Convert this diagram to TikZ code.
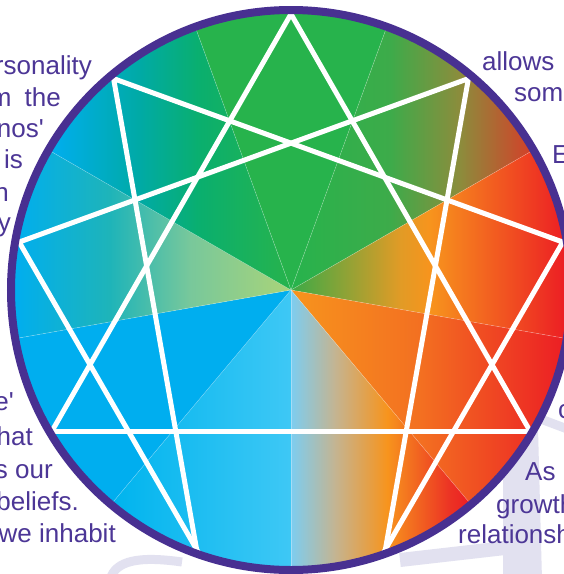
\documentclass[tikz,border=0pt]{standalone}
\usepackage{fontspec}
\setmainfont{Liberation Sans}[Ligatures=TeXOff]
\usetikzlibrary{calc}
\definecolor{ringpurple}{RGB}{72,48,145}
\definecolor{textpurple}{RGB}{76,54,150}
\definecolor{lav}{RGB}{226,225,240}
\definecolor{gtop}{RGB}{39,179,76}
\definecolor{bsolid}{RGB}{0,174,239}
\pgfdeclarehorizontalshading{wone}{100bp}{rgb(0bp)=(0.153,0.702,0.298); rgb(25bp)=(0.153,0.702,0.298); rgb(45.3bp)=(0.239,0.671,0.290); rgb(59.6bp)=(0.549,0.549,0.235); rgb(75bp)=(0.843,0.235,0.157); rgb(100bp)=(0.843,0.235,0.157)}
\pgfdeclarehorizontalshading{wtwo}{100bp}{rgb(0bp)=(0.235,0.667,0.275); rgb(25bp)=(0.235,0.667,0.275); rgb(44.7bp)=(0.882,0.608,0.149); rgb(50.1bp)=(0.969,0.580,0.114); rgb(75bp)=(0.925,0.110,0.141); rgb(100bp)=(0.925,0.110,0.141)}
\pgfdeclarehorizontalshading{wthree}{100bp}{rgb(0bp)=(0.969,0.580,0.114); rgb(25bp)=(0.969,0.580,0.114); rgb(48.6bp)=(0.953,0.439,0.129); rgb(75bp)=(0.925,0.118,0.141); rgb(100bp)=(0.925,0.118,0.141)}
\pgfdeclarehorizontalshading{wfour}{100bp}{rgb(0bp)=(0.490,0.804,0.941); rgb(25bp)=(0.490,0.804,0.941); rgb(37.4bp)=(0.769,0.706,0.569); rgb(52bp)=(0.969,0.580,0.114); rgb(69.7bp)=(0.925,0.196,0.141); rgb(75bp)=(0.925,0.118,0.141); rgb(100bp)=(0.925,0.118,0.141)}
\pgfdeclarehorizontalshading{wfive}{100bp}{rgb(0bp)=(0,0.706,0.933); rgb(25bp)=(0,0.706,0.933); rgb(75bp)=(0.243,0.784,0.961); rgb(100bp)=(0.243,0.784,0.961)}
\pgfdeclarehorizontalshading{wseven}{100bp}{rgb(0bp)=(0,0.682,0.937); rgb(25bp)=(0,0.682,0.937); rgb(42.3bp)=(0.118,0.706,0.725); rgb(56.8bp)=(0.471,0.784,0.608); rgb(75bp)=(0.667,0.831,0.471); rgb(100bp)=(0.667,0.831,0.471)}
\pgfdeclarehorizontalshading{weight}{100bp}{rgb(0bp)=(0,0.682,0.937); rgb(25bp)=(0,0.682,0.937); rgb(43.5bp)=(0,0.667,0.647); rgb(56bp)=(0.039,0.686,0.431); rgb(75bp)=(0.153,0.702,0.298); rgb(100bp)=(0.153,0.702,0.298)}
\begin{document}
\begin{tikzpicture}[x=1pt,y=-1pt,
  starline/.style={draw=white,line width=5pt,shorten <=-7pt,shorten >=-7pt},
  seam/.style={draw=white,opacity=0.35,line width=0.5pt},
  ringline/.style={draw=ringpurple,line width=8pt},
  lbl/.style={text=textpurple,inner sep=0pt,font=\fontsize{26}{31}\selectfont},
  lavband/.style={draw=lav,line cap=butt}]
\useasboundingbox (0,0) rectangle (564,574);
\fill[white] (0,0) rectangle (564,574);
% faint background decoration
\draw[lavband,line width=9pt] (522,412) -- (570,430);
\fill[lav] (503,445) -- (538,428) -- (542,580) -- (503,580) -- cycle;
\draw[lavband,line width=14pt] (400,560) -- (505,548);
\draw[lavband,line width=9pt] (110,580) .. controls (115,560) and (140,556) .. (182,562);
\coordinate (C) at (291,290);
\begin{scope}[shift={(C)}]
  \coordinate (p9) at (-90:276);
  \coordinate (p1) at (-50:276);
  \coordinate (p2) at (-10:276);
  \coordinate (p4) at (70:276);
  \coordinate (p5) at (110:276);
  \coordinate (p7) at (190:276);
  \coordinate (p8) at (230:276);
\end{scope}
\coordinate (p3) at (530,431);
\coordinate (p6) at (52,431);
\begin{scope}
  \clip (C) circle[radius=276.5pt];
  \begin{scope}[shift={(C)}]
    \fill[gtop] (0,0) -- (-110:420) -- (-70:420) -- cycle;
    \begin{scope}\clip (0,0) -- (-70:420) -- (-30:420) -- cycle;
      \shade[shading=wone] (0,-300) rectangle (244,300);\end{scope}
    \begin{scope}\clip (0,0) -- (-30:420) -- (10:420) -- cycle;
      \shade[shading=wtwo] (0,-300) rectangle (277,300);\end{scope}
    \begin{scope}\clip (0,0) -- (10:420) -- (50:420) -- cycle;
      \shade[shading=wthree] (0,-300) rectangle (273,300);\end{scope}
    \begin{scope}\clip (0,0) -- (50:420) -- (90:420) -- cycle;
      \shade[shading=wfour] (0,-300) rectangle (178,300);\end{scope}
    \begin{scope}\clip (0,0) -- (90:420) -- (130:420) -- cycle;
      \shade[shading=wfive] (-178,-300) rectangle (0,300);\end{scope}
    \fill[bsolid] (0,0) -- (130:420) -- (170:420) -- cycle;
    \begin{scope}\clip (0,0) -- (170:420) -- (210:420) -- cycle;
      \shade[shading=wseven] (-277,-300) rectangle (0,300);\end{scope}
    \begin{scope}\clip (0,0) -- (210:420) -- (250:420) -- cycle;
      \shade[shading=weight] (-240,-300) rectangle (0,300);\end{scope}
    \foreach \a in {-110,-70,-30,10,50,90,130,170,210}
      \draw[seam] (0,0) -- (\a:277);
  \end{scope}
  % enneagram lines
  \draw[starline] (p9) -- (p3);
  \draw[starline] (p3) -- (p6);
  \draw[starline] (p6) -- (p9);
  \draw[starline] (p1) -- (p4);
  \draw[starline] (p4) -- (p2);
  \draw[starline] (p2) -- (p8);
  \draw[starline] (p8) -- (p5);
  \draw[starline] (p5) -- (p7);
  \draw[starline] (p7) -- (p1);
\end{scope}
\draw[ringline] (C) circle[radius=280pt];
% texts
\node[lbl,anchor=base east] (l1) at (92,74) {rsonality};
\node[lbl,anchor=base east] (l2) at (61,106) {m\hspace{13pt}the};
\node[lbl,anchor=base east] (l3) at (44,137) {nos'};
\node[lbl,anchor=base east] (l4) at (23,168) {is};
\node[lbl,anchor=base east] (l5) at (9,201) {n};
\node[lbl,anchor=base east] (l6) at (11,231) {y};
\node[lbl,anchor=base east] (l7) at (14,410) {e'};
\node[lbl,anchor=base east] (l8) at (33,445) {hat};
\node[lbl,anchor=base east] (l9) at (53,478) {s our};
\node[lbl,anchor=base east] (l10) at (79,510) {beliefs.};
\node[lbl,anchor=base east] (l11) at (116,542) {we inhabit};
\node[lbl,anchor=base west] (r1) at (482,70) {allows};
\node[lbl,anchor=base west] (r2) at (514,101) {som};
\node[lbl,anchor=base west] (r3) at (552,163) {E};
\node[lbl,anchor=base west] (r4) at (558,418) {c};
\node[lbl,anchor=base west] (r5) at (525,480) {As};
\node[lbl,anchor=base west] (r6) at (496,513) {growth};
\node[lbl,anchor=base west] (r7) at (458,543) {relationsh};
\end{tikzpicture}
\end{document}
